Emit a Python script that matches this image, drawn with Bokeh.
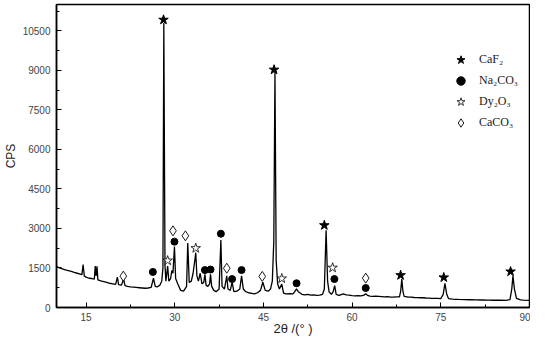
from bokeh.plotting import figure
from bokeh.models import Range1d, FixedTicker, Legend, LegendItem, ColumnDataSource
from bokeh.embed import file_html
from bokeh.resources import INLINE

# ---------------- data ----------------
two_theta = [
    10.0, 10.5, 11.0, 11.5, 12.0, 12.5, 13.0, 13.5, 14.0, 14.3, 14.5, 14.7,
    15.0, 15.5, 16.0, 16.4, 16.55, 16.7, 16.85, 17.0, 17.5, 18.0, 18.5, 19.0,
    19.5, 20.0, 20.3, 20.5, 21.0, 21.35, 21.6, 22.0, 22.5, 23.0, 23.5, 24.0,
    24.5, 25.0, 25.5, 26.0, 26.4, 26.7, 27.0, 27.5, 27.8, 28.0, 28.15, 28.35,
    28.5, 28.8, 29.0, 29.3, 29.5, 29.7, 29.95, 30.15, 30.5, 31.0, 31.5, 32.0,
    32.2, 32.45, 32.8, 33.1, 33.4, 33.55, 33.75, 34.0, 34.3, 34.6, 34.9, 35.1,
    35.3, 35.6, 35.9, 36.05, 36.25, 36.6, 37.0, 37.5, 37.8, 38.0, 38.4, 38.8,
    39.0, 39.4, 39.7, 40.0, 40.5, 41.0, 41.3, 41.6, 42.0, 42.5, 43.0, 43.5,
    44.0, 44.5, 44.9, 45.3, 45.8, 46.2, 46.5, 46.75, 46.95, 47.15, 47.4, 47.7,
    48.1, 48.4, 48.8, 49.5, 50.0, 50.3, 50.6, 50.9, 51.5, 52.0, 52.5, 53.0,
    53.5, 54.0, 54.5, 55.0, 55.3, 55.6, 55.85, 56.1, 56.5, 56.8, 57.05, 57.3,
    57.8, 58.5, 59.0, 59.5, 60.0, 60.5, 61.0, 61.5, 62.0, 62.3, 62.6, 63.0,
    63.5, 64.0, 64.5, 65.0, 65.5, 66.0, 66.5, 67.0, 67.5, 68.0, 68.2, 68.4,
    68.6, 68.8, 69.5, 70.0, 70.5, 71.0, 71.5, 72.0, 72.5, 73.0, 73.5, 74.0,
    74.5, 75.0, 75.4, 75.7, 76.0, 76.3, 77.0, 77.5, 78.0, 79.0, 80.0, 81.0,
    82.0, 83.0, 84.0, 85.0, 86.0, 86.7, 87.0, 87.2, 87.45, 87.8, 88.5, 89.0,
    90.0,
]
cps = [
    1560, 1500, 1470, 1430, 1400, 1370, 1330, 1300, 1270, 1250, 1630, 1200,
    1150, 1110, 1100, 1080, 1570, 1200, 1560, 1050, 1010, 980, 950, 920,
    900, 880, 1150, 870, 850, 1080, 830, 800, 780, 770, 760, 750,
    740, 730, 740, 760, 1110, 800, 780, 850, 1000, 1500, 10800, 1600,
    1000, 1570, 1000, 1100, 1400, 1300, 2310, 1100, 900, 650, 620, 800,
    2450, 950, 1000, 1300, 1800, 2080, 1200, 1000, 1300, 900, 950, 1260,
    850, 800, 900, 1260, 800, 650, 600, 700, 2560, 800, 700, 1200,
    700, 650, 960, 600, 620, 700, 1200, 700, 600, 560, 540, 520,
    560, 650, 960, 650, 620, 700, 1000, 2500, 8950, 1800, 900, 700,
    890, 550, 520, 530, 520, 600, 705, 600, 500, 480, 500, 470,
    480, 460, 470, 500, 700, 2935, 1000, 600, 500, 600, 830, 500,
    460, 520, 480, 470, 450, 440, 450, 440, 470, 520, 460, 430,
    420, 430, 420, 410, 400, 410, 390, 390, 400, 400, 600, 1077,
    600, 420, 390, 390, 380, 375, 370, 370, 360, 355, 350, 350,
    345, 340, 500, 917, 500, 340, 320, 310, 305, 300, 295, 290,
    285, 280, 275, 275, 272, 300, 700, 1200, 700, 350, 290, 280,
    270,
]

# phase markers (2theta, CPS)
caf2_x = [28.1, 46.8, 55.3, 68.2, 75.5, 86.8]
caf2_y = [10920, 9025, 3120, 1225, 1140, 1363]
na2co3_x = [26.3, 29.95, 35.1, 36.05, 37.8, 39.7, 41.3, 50.6, 57.0, 62.3]
na2co3_y = [1350, 2500, 1420, 1440, 2800, 1080, 1420, 920, 1080, 740]
dy2o3_x = [28.8, 33.55, 48.1, 56.7]
dy2o3_y = [1780, 2250, 1100, 1510]
caco3_x = [21.3, 29.7, 31.8, 38.8, 44.8, 62.3]
caco3_y = [1190, 2910, 2720, 1490, 1180, 1115]

legend_labels = ["CaF₂", "Na₂CO₃", "Dy₂O₃", "CaCO₃"]

x_ticks = [15, 30, 45, 60, 75, 90]
x_minor = [22.5, 37.5, 52.5, 67.5, 82.5]
y_ticks = [0, 1500, 3000, 4500, 6000, 7500, 9000, 10500]
y_minor = [750, 2250, 3750, 5250, 6750, 8250, 9750, 11250]

# ---------------- figure ----------------
p = figure(width=530, height=338, output_backend="svg", toolbar_location=None,
           x_range=Range1d(10, 90), y_range=Range1d(0, 11500),
           min_border_left=49, min_border_right=1, min_border_top=4,
           min_border_bottom=24)
p.background_fill_color = "white"
p.border_fill_color = "white"
p.outline_line_color = "black"
p.outline_line_width = 1.5
p.grid.visible = False

for ax in (p.xaxis[0], p.yaxis[0]):
    ax.axis_line_width = 1.5
    ax.axis_line_color = "black"
    ax.major_tick_in = 5
    ax.major_tick_out = 0
    ax.minor_tick_in = 3
    ax.minor_tick_out = 0
    ax.major_tick_line_color = "black"
    ax.minor_tick_line_color = "black"
    ax.major_label_text_font = "Liberation Sans"
    ax.major_label_text_font_size = "10px"
    ax.major_label_text_color = "#444444"
    ax.axis_label_text_font = "Liberation Sans"
    ax.axis_label_text_font_style = "normal"
    ax.axis_label_text_color = "#222222"

p.xaxis.ticker = FixedTicker(ticks=x_ticks, minor_ticks=x_minor)
p.yaxis.ticker = FixedTicker(ticks=y_ticks, minor_ticks=y_minor)
p.xaxis.axis_label = "2θ /(° )"
p.yaxis.axis_label = "CPS"
p.xaxis.axis_label_text_font_size = "13px"
p.yaxis.axis_label_text_font_size = "12px"
p.xaxis.major_label_standoff = 5
p.xaxis.axis_label_standoff = -3
p.yaxis.major_label_standoff = 6
p.yaxis.axis_label_standoff = 2

src = ColumnDataSource(dict(x=two_theta, y=cps))
p.line("x", "y", source=src, line_color="black", line_width=1.3)

r_caf2 = p.scatter(caf2_x, caf2_y, marker="star", size=10,
                   fill_color="black", line_color="black")
r_na = p.scatter(na2co3_x, na2co3_y, marker="circle", size=7,
                 fill_color="black", line_color="black")
r_dy = p.scatter(dy2o3_x, dy2o3_y, marker="star", size=10,
                 fill_color="white", line_color="black", line_width=0.8)
r_ca = p.scatter(caco3_x, caco3_y, marker="diamond", size=10,
                 fill_color="white", line_color="black", line_width=0.9)

legend = Legend(items=[LegendItem(label=legend_labels[0], renderers=[r_caf2]),
                       LegendItem(label=legend_labels[1], renderers=[r_na]),
                       LegendItem(label=legend_labels[2], renderers=[r_dy]),
                       LegendItem(label=legend_labels[3], renderers=[r_ca])],
                location=(394, 174), glyph_width=21, glyph_height=21,
                spacing=0, padding=0, margin=0, label_standoff=8,
                label_height=21,
                label_text_font="Liberation Serif", label_text_font_size="12px",
                label_text_color="#222222", border_line_color=None,
                background_fill_alpha=0)
p.add_layout(legend, "center")

open("out.html", "w").write(file_html(p, INLINE))
